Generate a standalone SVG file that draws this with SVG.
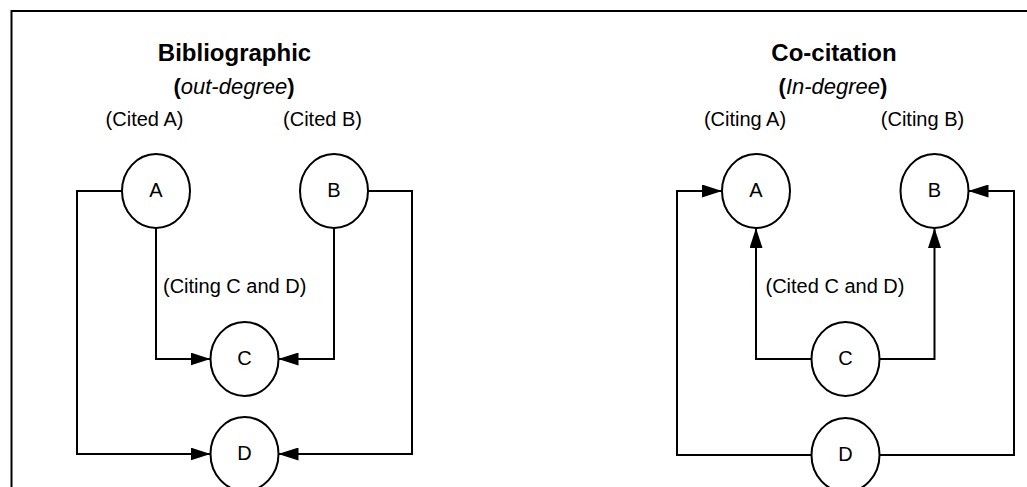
<svg xmlns="http://www.w3.org/2000/svg" width="1027" height="487" viewBox="0 0 1027 487">
<style>
text{font-family:"Liberation Sans",Arial,sans-serif;fill:#000}
.title{font-size:24px;font-weight:bold}
.sub{font-size:22px}
.lbl{font-size:20px}
.node ellipse{fill:#fff;stroke:#000;stroke-width:2}
.node text{font-size:20px;text-anchor:middle}
.conn path{fill:none;stroke:#000;stroke-width:2}
</style>
<defs>
<marker id="arr" markerUnits="userSpaceOnUse" viewBox="0 0 20 13" refX="20" refY="6.5" markerWidth="20" markerHeight="13" orient="auto">
<path d="M0,0 L20,6.5 L0,13 z" fill="#000"/>
</marker>
</defs>
<rect x="11.5" y="11" width="1030" height="500" fill="#fff" stroke="#000" stroke-width="2"/>

<g id="labels-left">
<text class="title" x="234.5" y="61" text-anchor="middle">Bibliographic</text>
<text class="sub" x="234" y="94" text-anchor="middle"><tspan font-weight="bold">(</tspan><tspan font-style="italic">out-degree</tspan><tspan font-weight="bold">)</tspan></text>
<text class="lbl" x="144.5" y="126" text-anchor="middle">(Cited A)</text>
<text class="lbl" x="322.5" y="126" text-anchor="middle">(Cited B)</text>
<text class="lbl" x="163" y="293">(Citing C and D)</text>
</g>
<g id="labels-right">
<text class="title" x="834" y="61" text-anchor="middle">Co-citation</text>
<text class="sub" x="833" y="94" text-anchor="middle"><tspan font-weight="bold">(</tspan><tspan font-style="italic">In-degree</tspan><tspan font-weight="bold">)</tspan></text>
<text class="lbl" x="745" y="126" text-anchor="middle">(Citing A)</text>
<text class="lbl" x="922.5" y="126" text-anchor="middle">(Citing B)</text>
<text class="lbl" x="765.5" y="293">(Cited C and D)</text>
</g>

<g id="connectors" class="conn">
<path d="M156,228 V359 H210.5" marker-end="url(#arr)"/>
<path d="M334,228 V359 H278.5" marker-end="url(#arr)"/>
<path d="M122,191 H77 V454 H210.5" marker-end="url(#arr)"/>
<path d="M368,191 H412 V454 H278.5" marker-end="url(#arr)"/>
<path d="M811.5,359 H756 V228" marker-end="url(#arr)"/>
<path d="M879.5,359 H934.5 V228" marker-end="url(#arr)"/>
<path d="M811.5,455 H677 V191 H722" marker-end="url(#arr)"/>
<path d="M879.5,455 H1014 V191 H968.5" marker-end="url(#arr)"/>
</g>

<g id="L-A" class="node"><ellipse cx="156" cy="191" rx="34" ry="37"/><text x="156" y="197">A</text></g>
<g id="L-B" class="node"><ellipse cx="334" cy="191" rx="34" ry="37"/><text x="334" y="197">B</text></g>
<g id="L-C" class="node"><ellipse cx="244.5" cy="359" rx="34" ry="37"/><text x="244.5" y="365">C</text></g>
<g id="L-D" class="node"><ellipse cx="244.5" cy="454" rx="34" ry="37"/><text x="244.5" y="460">D</text></g>
<g id="R-A" class="node"><ellipse cx="756" cy="191" rx="34" ry="37"/><text x="756" y="197">A</text></g>
<g id="R-B" class="node"><ellipse cx="934.5" cy="191" rx="34" ry="37"/><text x="934.5" y="197">B</text></g>
<g id="R-C" class="node"><ellipse cx="845.5" cy="359" rx="34" ry="37"/><text x="845.5" y="365">C</text></g>
<g id="R-D" class="node"><ellipse cx="845.5" cy="455" rx="34" ry="37"/><text x="845.5" y="461">D</text></g>
</svg>
